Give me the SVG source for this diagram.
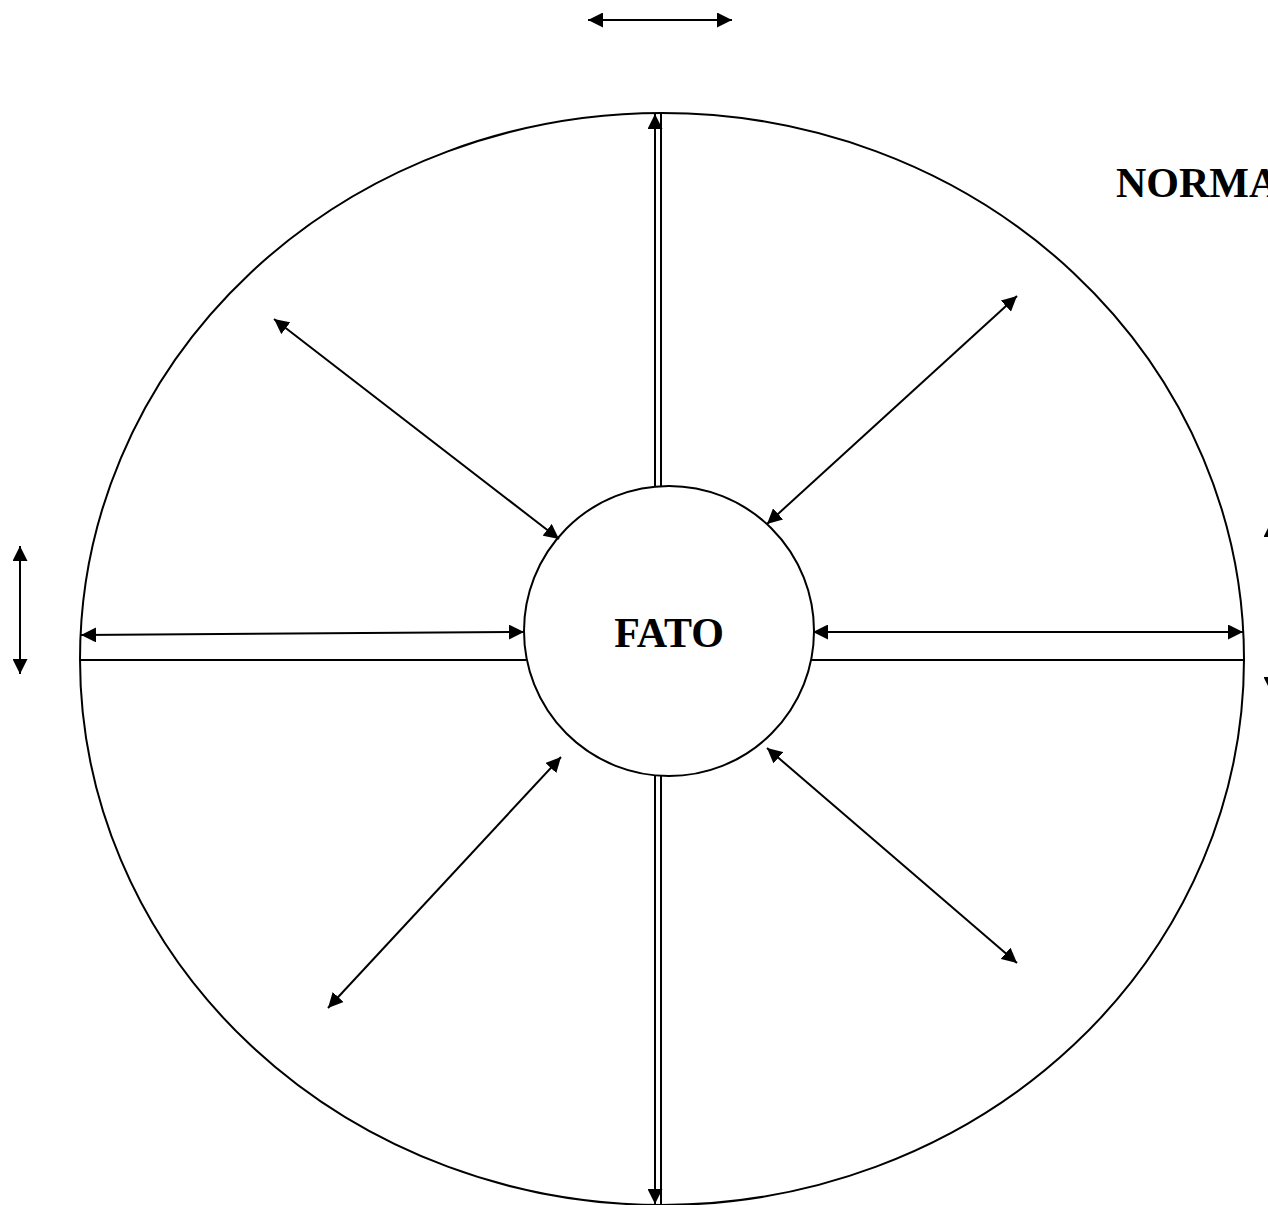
<svg xmlns="http://www.w3.org/2000/svg" width="1268" height="1205" viewBox="0 0 1268 1205">
<style>
.ln{stroke:#000;stroke-width:2;fill:none}
.shape{stroke:#000;stroke-width:2;fill:none}
.lbl{font-family:"Liberation Serif","Times New Roman",serif;font-weight:bold;font-size:42px;fill:#000}
</style>
<defs>
<marker id="ah" viewBox="0 0 15 15" refX="15" refY="7.5" markerWidth="15" markerHeight="15" markerUnits="userSpaceOnUse" orient="auto-start-reverse">
<path d="M0,0 L15,7.5 L0,15 z" fill="#000"/>
</marker>
</defs>
<rect width="1268" height="1205" fill="#fff"/>
<g id="outer">
<ellipse class="shape" cx="662" cy="659" rx="582" ry="546"/>
</g>
<g id="fato">
<circle class="shape" cx="669" cy="631" r="145" fill="#fff"/>
<text class="lbl" x="669" y="647" text-anchor="middle">FATO</text>
</g>
<g id="norma">
<text class="lbl" x="1116" y="197">NORMA</text>
</g>
<g id="connectors">
<line class="ln" x1="655" y1="486" x2="655" y2="114" marker-end="url(#ah)"/>
<line class="ln" x1="661" y1="486" x2="661" y2="113"/>
<line class="ln" x1="655" y1="776" x2="655" y2="1204" marker-end="url(#ah)"/>
<line class="ln" x1="661" y1="776" x2="661" y2="1204"/>
<line class="ln" x1="81" y1="635" x2="524" y2="632" marker-start="url(#ah)" marker-end="url(#ah)"/>
<line class="ln" x1="80" y1="660" x2="526" y2="660"/>
<line class="ln" x1="813" y1="632" x2="1243" y2="632" marker-start="url(#ah)" marker-end="url(#ah)"/>
<line class="ln" x1="811" y1="660" x2="1244" y2="660"/>
<line class="ln" x1="274" y1="319" x2="559" y2="539" marker-start="url(#ah)" marker-end="url(#ah)"/>
<line class="ln" x1="1017" y1="296" x2="767" y2="524" marker-start="url(#ah)" marker-end="url(#ah)"/>
<line class="ln" x1="328" y1="1008" x2="561" y2="757" marker-start="url(#ah)" marker-end="url(#ah)"/>
<line class="ln" x1="1017" y1="963" x2="767" y2="748" marker-start="url(#ah)" marker-end="url(#ah)"/>
<line class="ln" x1="588" y1="20" x2="732" y2="20" marker-start="url(#ah)" marker-end="url(#ah)"/>
<line class="ln" x1="20" y1="546" x2="20" y2="674" marker-start="url(#ah)" marker-end="url(#ah)"/>
<line class="ln" x1="1271" y1="522" x2="1271" y2="692" marker-start="url(#ah)" marker-end="url(#ah)"/>
</g>
</svg>
